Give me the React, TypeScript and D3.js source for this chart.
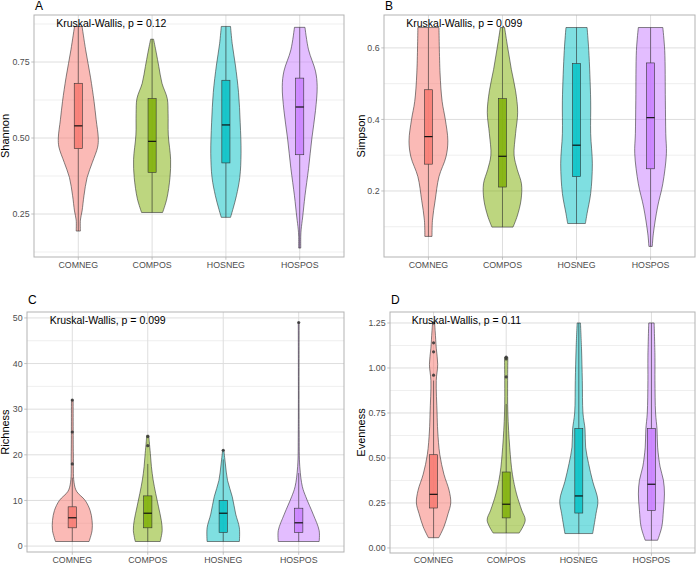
import React from "react";
import * as d3 from "d3";

const groups = ["COMNEG", "COMPOS", "HOSNEG", "HOSPOS"];
const groupColors = ["#F8766D", "#7CAE00", "#00BFC4", "#C77CFF"];

// ---- Panel A: Shannon ----
const shannonViolins: [number, number][][] = [
  [[0.194, 0.1], [0.23, 0.1], [0.26, 0.18], [0.31, 0.27], [0.37, 0.42], [0.42, 0.67], [0.47, 0.92], [0.5, 0.95], [0.56, 0.85], [0.62, 0.75], [0.7, 0.58], [0.79, 0.35], [0.867, 0.18]],
  [[0.255, 0.5], [0.3, 0.7], [0.37, 0.85], [0.43, 0.88], [0.51, 0.77], [0.58, 0.76], [0.63, 0.72], [0.68, 0.47], [0.735, 0.32], [0.78, 0.2], [0.825, 0.07]],
  [[0.239, 0.22], [0.27, 0.35], [0.31, 0.5], [0.37, 0.66], [0.45, 0.72], [0.55, 0.68], [0.65, 0.6], [0.74, 0.45], [0.81, 0.3], [0.867, 0.22]],
  [[0.138, 0.05], [0.177, 0.05], [0.2, 0.07], [0.24, 0.14], [0.31, 0.25], [0.4, 0.42], [0.5, 0.58], [0.59, 0.75], [0.67, 0.83], [0.72, 0.75], [0.79, 0.42], [0.864, 0.25]],
];
const shannonBoxes: number[][] = [[0.465, 0.54, 0.68], [0.387, 0.489, 0.63], [0.418, 0.543, 0.69], [0.445, 0.602, 0.697]];
const shannonWhiskers: number[][] = [[0.194, 0.867], [0.255, 0.825], [0.239, 0.867], [0.138, 0.864]];
const shannonOutliers: number[][] = [[], [], [], []];
const shannonTicks = [0.25, 0.5, 0.75];
const shannonMinor = [0.125, 0.375, 0.625, 0.875];

// ---- Panel B: Simpson ----
const simpsonViolins: [number, number][][] = [
  [[0.073, 0.17], [0.118, 0.19], [0.174, 0.32], [0.24, 0.5], [0.295, 0.83], [0.34, 0.92], [0.4, 0.8], [0.45, 0.65], [0.53, 0.55], [0.657, 0.5]],
  [[0.099, 0.5], [0.13, 0.7], [0.175, 0.88], [0.22, 0.9], [0.26, 0.7], [0.3, 0.55], [0.36, 0.62], [0.42, 0.72], [0.48, 0.62], [0.54, 0.42], [0.6, 0.25], [0.657, 0.1]],
  [[0.109, 0.42], [0.137, 0.5], [0.193, 0.67], [0.276, 0.75], [0.36, 0.67], [0.454, 0.67], [0.593, 0.58], [0.657, 0.5]],
  [[0.045, 0.08], [0.08, 0.13], [0.155, 0.33], [0.22, 0.58], [0.304, 0.75], [0.36, 0.72], [0.454, 0.7], [0.593, 0.67], [0.657, 0.58]],
];
const simpsonBoxes: number[][] = [[0.275, 0.352, 0.483], [0.211, 0.297, 0.458], [0.24, 0.328, 0.556], [0.262, 0.405, 0.558]];
const simpsonWhiskers: number[][] = [[0.073, 0.657], [0.099, 0.657], [0.109, 0.657], [0.045, 0.657]];
const simpsonOutliers: number[][] = [[], [], [], []];
const simpsonTicks = [0.2, 0.4, 0.6];
const simpsonMinor = [0.1, 0.3, 0.5];

// ---- Panel C: Richness ----
const richnessViolins: [number, number][][] = [
  [[1, 0.78], [3.4, 0.92], [5.6, 0.92], [7.8, 0.83], [10, 0.6], [12, 0.2], [14, 0.08], [20, 0.05], [32, 0.04]],
  [[1, 0.58], [3.4, 0.67], [5.6, 0.63], [8.6, 0.5], [11.5, 0.37], [14.5, 0.25], [17.4, 0.17], [20.3, 0.12], [22.9, 0.07], [24.3, 0.05]],
  [[1, 0.75], [4, 0.75], [7, 0.58], [10.8, 0.42], [14.4, 0.2], [18, 0.1], [21, 0.03]],
  [[1, 0.95], [3.4, 0.95], [7, 0.67], [10.8, 0.33], [13, 0.17], [17.4, 0.05], [25, 0.02], [49, 0.02]],
];
const richnessBoxes: number[][] = [[4, 6.2, 8.6], [4, 7.2, 11], [3, 7.2, 10], [3, 5.1, 8.3]];
const richnessWhiskers: number[][] = [[1, 15], [1, 18], [1, 19], [1, 16]];
const richnessOutliers: number[][] = [[18, 25, 32], [22, 24], [21], [49]];
const richnessTicks = [0, 10, 20, 30, 40, 50];
const richnessMinor = [5, 15, 25, 35, 45];

// ---- Panel D: Evenness ----
const evennessViolins: [number, number][][] = [
  [[0.057, 0.25], [0.117, 0.5], [0.19, 0.7], [0.25, 0.83], [0.32, 0.75], [0.41, 0.5], [0.52, 0.3], [0.65, 0.2], [0.75, 0.17], [0.93, 0.13], [1.02, 0.2], [1.11, 0.13], [1.2, 0.08], [1.25, 0.05]],
  [[0.083, 0.63], [0.154, 0.92], [0.21, 0.75], [0.3, 0.5], [0.41, 0.3], [0.56, 0.17], [0.75, 0.08], [0.93, 0.07], [1.06, 0.08]],
  [[0.08, 0.67], [0.19, 0.83], [0.265, 0.92], [0.37, 0.67], [0.47, 0.47], [0.56, 0.33], [0.66, 0.3], [0.75, 0.2], [0.93, 0.17], [1.11, 0.13], [1.25, 0.08]],
  [[0.043, 0.3], [0.117, 0.5], [0.21, 0.58], [0.3, 0.63], [0.376, 0.58], [0.45, 0.42], [0.56, 0.3], [0.66, 0.27], [0.75, 0.2], [0.93, 0.17], [1.06, 0.17], [1.25, 0.13]],
];
const evennessBoxes: number[][] = [[0.222, 0.298, 0.518], [0.167, 0.243, 0.422], [0.194, 0.289, 0.663], [0.209, 0.354, 0.663]];
const evennessWhiskers: number[][] = [[0.057, 0.93], [0.083, 0.8], [0.08, 1.25], [0.043, 1.25]];
const evennessOutliers: number[][] = [[0.96, 1.09, 1.14, 1.25], [0.95, 1.05, 1.06], [], []];
const evennessTicks = [0, 0.25, 0.5, 0.75, 1, 1.25];
const evennessMinor = [0.125, 0.375, 0.625, 0.875, 1.125];

const FONT = "'Liberation Sans', Arial, sans-serif";

type PanelProps = {
  letter: string;
  yTitle: string;
  pLabel: string;
  frame: { left: number; right: number; top: number; bottom: number };
  domain: [number, number];
  ticks: number[];
  minor: number[];
  fmt: (v: number) => string;
  violins: [number, number][][];
  boxes: number[][];
  whiskers: number[][];
  outliers: number[][];
  letterY: number;
  yTitleX: number;
};

function Panel(p: PanelProps) {
  const { left, right, top, bottom } = p.frame;
  const y = d3.scaleLinear().domain(p.domain).range([bottom, top]);
  const x = d3.scaleLinear().domain([0.4, 4.6]).range([left, right]);
  const unit = x(1) - x(0);
  const w = d3.scaleLinear().domain([0, 1]).range([0, 0.285 * unit]);
  const boxHalf = 0.055 * unit;
  const grid = "#dedede";
  return (
    <g>
      {p.minor.map((t) => (
        <line key={"mn" + t} x1={left} x2={right} y1={y(t)} y2={y(t)} stroke={grid} strokeWidth={0.5} />
      ))}
      {p.ticks.map((t) => (
        <line key={"mj" + t} x1={left} x2={right} y1={y(t)} y2={y(t)} stroke={grid} strokeWidth={1} />
      ))}
      {groups.map((g, i) => (
        <line key={"vg" + g} x1={x(i + 1)} x2={x(i + 1)} y1={top} y2={bottom} stroke={grid} strokeWidth={1} />
      ))}
      {p.violins.map((v, i) => {
        const cx = x(i + 1);
        const area = d3
          .area<[number, number]>()
          .y((d) => y(d[0]))
          .x0((d) => cx - w(d[1]))
          .x1((d) => cx + w(d[1]))
          .curve(d3.curveCatmullRom);
        return (
          <path key={"v" + i} d={area(v) || ""} fill={groupColors[i]} fillOpacity={0.5} stroke="#333" strokeWidth={0.6} />
        );
      })}
      {p.boxes.map((b, i) => {
        const cx = x(i + 1);
        const wk = p.whiskers[i];
        return (
          <g key={"b" + i}>
            <line x1={cx} x2={cx} y1={y(wk[0])} y2={y(b[0])} stroke="#333" strokeWidth={0.6} />
            <line x1={cx} x2={cx} y1={y(b[2])} y2={y(wk[1])} stroke="#333" strokeWidth={0.6} />
            <rect x={cx - boxHalf} width={2 * boxHalf} y={y(b[2])} height={y(b[0]) - y(b[2])} fill={groupColors[i]} fillOpacity={0.8} stroke="#333" strokeWidth={0.6} />
            <line x1={cx - boxHalf} x2={cx + boxHalf} y1={y(b[1])} y2={y(b[1])} stroke="#111" strokeWidth={1.2} />
            {p.outliers[i].map((o, j) => (
              <circle key={j} cx={cx} cy={y(o)} r={1.6} fill="#333" fillOpacity={0.85} />
            ))}
          </g>
        );
      })}
      <rect x={left} y={top} width={right - left} height={bottom - top} fill="none" stroke="#b3b3b3" strokeWidth={1} />
      {p.ticks.map((t) => (
        <g key={"t" + t}>
          <line x1={left - 2.75} x2={left} y1={y(t)} y2={y(t)} stroke="#b3b3b3" strokeWidth={0.8} />
          <text x={left - 4.4} y={y(t)} dy="0.35em" textAnchor="end" fontSize={8.8} fill="#4d4d4d" fontFamily={FONT}>
            {p.fmt(t)}
          </text>
        </g>
      ))}
      {groups.map((g, i) => (
        <g key={"xt" + g}>
          <line x1={x(i + 1)} x2={x(i + 1)} y1={bottom} y2={bottom + 2.75} stroke="#b3b3b3" strokeWidth={0.8} />
          <text x={x(i + 1)} y={Math.min(bottom + 11, 563)} textAnchor="middle" fontSize={8.8} fill="#4d4d4d" fontFamily={FONT}>
            {g}
          </text>
        </g>
      ))}
      <text x={x(0.7)} y={top + 11.5} fontSize={10.5} fill="#000" fontFamily={FONT}>
        {p.pLabel}
      </text>
      <text x={left + 1} y={p.letterY} fontSize={12} fill="#000" fontFamily={FONT}>
        {p.letter}
      </text>
      <text
        transform={`translate(${p.yTitleX},${(top + bottom) / 2}) rotate(-90)`}
        textAnchor="middle"
        fontSize={11}
        fill="#000"
        fontFamily={FONT}
      >
        {p.yTitle}
      </text>
    </g>
  );
}

export default function App() {
  const f2 = d3.format(".2f");
  const f1 = d3.format(".1f");
  const f0 = d3.format("d");
  return (
    <svg width={700} height={564} style={{ position: "absolute", left: 0, top: 0, background: "#fff" }}>
      <rect width={700} height={564} fill="#fff" />
      <Panel
        letter="A" yTitle="Shannon" pLabel="Kruskal-Wallis, p = 0.12"
        frame={{ left: 34, right: 344, top: 15, bottom: 257 }} domain={[0.1086, 0.9046]}
        ticks={shannonTicks} minor={shannonMinor} fmt={f2}
        violins={shannonViolins} boxes={shannonBoxes} whiskers={shannonWhiskers} outliers={shannonOutliers}
        letterY={10} yTitleX={8.5}
      />
      <Panel
        letter="B" yTitle="Simpson" pLabel="Kruskal-Wallis, p = 0.099"
        frame={{ left: 384, right: 695, top: 15, bottom: 257 }} domain={[0.0154, 0.692]}
        ticks={simpsonTicks} minor={simpsonMinor} fmt={f1}
        violins={simpsonViolins} boxes={simpsonBoxes} whiskers={simpsonWhiskers} outliers={simpsonOutliers}
        letterY={10} yTitleX={365}
      />
      <Panel
        letter="C" yTitle="Richness" pLabel="Kruskal-Wallis, p = 0.099"
        frame={{ left: 27, right: 344, top: 312, bottom: 552 }} domain={[-1.3, 51.3]}
        ticks={richnessTicks} minor={richnessMinor} fmt={f0}
        violins={richnessViolins} boxes={richnessBoxes} whiskers={richnessWhiskers} outliers={richnessOutliers}
        letterY={304} yTitleX={8.5}
      />
      <Panel
        letter="D" yTitle="Evenness" pLabel="Kruskal-Wallis, p = 0.11"
        frame={{ left: 390, right: 695, top: 312, bottom: 553 }} domain={[-0.028, 1.311]}
        ticks={evennessTicks} minor={evennessMinor} fmt={f2}
        violins={evennessViolins} boxes={evennessBoxes} whiskers={evennessWhiskers} outliers={evennessOutliers}
        letterY={304} yTitleX={365}
      />
    </svg>
  );
}
